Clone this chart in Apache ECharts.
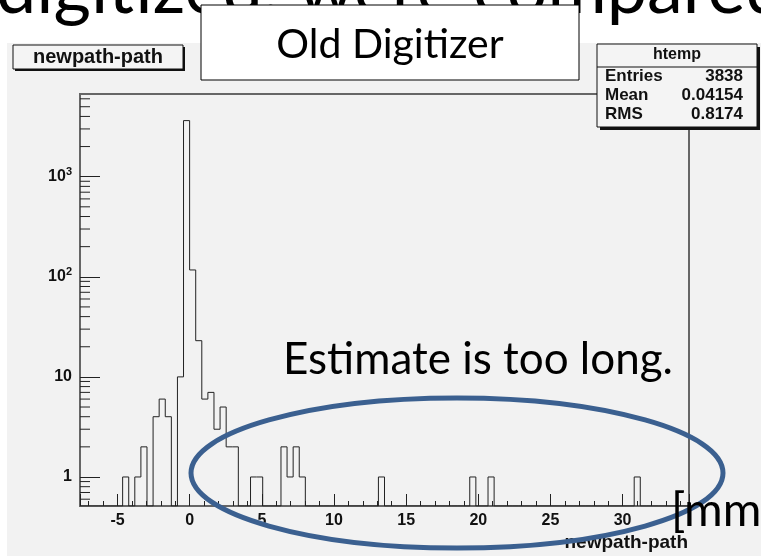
<!DOCTYPE html>
<html>
<head>
<meta charset="utf-8">
<script src="https://cdn.jsdelivr.net/npm/echarts@6/dist/echarts.min.js"></script>
<style>
  html, body { margin: 0; padding: 0; background: #fff; }
  #main { width: 761px; height: 556px; }
</style>
</head>
<body>
<div id="main"></div>
<script>
// histogram htemp: 100 bins from xMin to xMax, only filled bins listed
var xMin = -7.6, xMax = 34.6, nBins = 100;
var binIndex  = [7, 9, 10, 12, 13, 14, 16, 17,   18,  19, 20, 21, 22, 23, 24, 25, 28, 29, 33, 34, 35, 36, 49, 64, 67, 91];
var binCounts = [1, 1, 2,  4,  6,  4,  10, 3633, 117, 23, 6,  7,  3,  5,  2,  2,  1,  1,  2,  1,  2,  1,  1,  1,  1,  1];
var yMin = 0.513, yMax = 6700;
var yLabels = { 1: '1', 10: '10', 100: '10{sup|2}', 1000: '10{sup|3}' };
var statNames = ['Entries', 'Mean', 'RMS'];
var statValues = ['3838', '0.04154', '0.8174'];

var binWidth = (xMax - xMin) / nBins;
var counts = [];
for (var i = 0; i < nBins; i++) counts.push(0);
binIndex.forEach(function (b, k) { counts[b] = binCounts[k]; });

// step outline, empty bins drawn on the bottom of the frame
var outline = [];
counts.forEach(function (c, i) {
  var v = c > 0 ? c : yMin;
  outline.push([xMin + i * binWidth, v]);
  outline.push([xMin + (i + 1) * binWidth, v]);
});

// log minor ticks 2..9 per decade
var minorY = [];
[0.1, 1, 10, 100, 1000].forEach(function (d) {
  for (var m = 2; m <= 9; m++) {
    var v = m * d;
    if (v > yMin && v < yMax) minorY.push([xMin, v]);
  }
});

var myChart = echarts.init(document.getElementById('main'));
var font = 'Liberation Sans, Arial, sans-serif';
var slideFont = 'Lato, Open Sans, sans-serif';

var option = {
  animation: false,
  backgroundColor: '#fff',
  grid: {
    left: 80, right: 72, top: 94, bottom: 50,
    show: true,
    borderColor: '#666',
    borderWidth: 2,
    backgroundColor: 'transparent'
  },
  xAxis: {
    type: 'value',
    min: xMin,
    max: xMax,
    splitNumber: 8,
    axisLine: { onZero: false, lineStyle: { color: '#666', width: 2 } },
    axisTick: { inside: true, length: 12, lineStyle: { color: '#222', width: 1 } },
    minorTick: { show: true, splitNumber: 5, length: 5, lineStyle: { color: '#222', width: 1 } },
    splitLine: { show: false },
    axisLabel: {
      showMinLabel: false, showMaxLabel: false,
      margin: 7, color: '#111', fontFamily: font, fontWeight: 'bold', fontSize: 16
    }
  },
  yAxis: {
    type: 'log',
    min: yMin,
    max: yMax,
    axisLine: { onZero: false, lineStyle: { color: '#666', width: 2 } },
    axisTick: { inside: true, length: 20, lineStyle: { color: '#222', width: 1 } },
    splitLine: { show: false },
    axisLabel: {
      showMinLabel: false, showMaxLabel: false,
      margin: 8, color: '#111', fontFamily: font, fontWeight: 'bold', fontSize: 16,
      formatter: function (v) {
        var k = Math.round(v);
        return Math.abs(v - k) < 1e-6 && yLabels[k] ? yLabels[k] : '';
      },
      rich: {
        sup: { fontFamily: font, fontWeight: 'bold', fontSize: 11, color: '#111', padding: [0, 0, 9, 0] }
      }
    }
  },
  series: [
    {
      name: 'htemp',
      type: 'line',
      data: outline,
      symbol: 'none',
      clip: true,
      lineStyle: { color: '#222', width: 1 },
      z: 3
    },
    {
      name: 'minor',
      type: 'custom',
      data: minorY,
      encode: { x: 0, y: 1 },
      renderItem: function (params, api) {
        var p = api.coord([xMin, api.value(1)]);
        return {
          type: 'line',
          shape: { x1: p[0], y1: p[1], x2: p[0] + 10, y2: p[1] },
          style: { stroke: '#222', lineWidth: 1 }
        };
      },
      z: 3
    }
  ],
  graphic: [
    { type: 'rect', z: -10, shape: { x: 7, y: 43, width: 754, height: 513 }, style: { fill: '#f2f2f2' } },
    // slide title, cut at the top
    { type: 'text', z: -5, x: -4, y: -46, style: { text: 'digitized, were compared', font: '72px ' + slideFont, fill: '#000', verticalAlign: 'top' } },
    // Old Digitizer box
    { type: 'rect', z: 20, shape: { x: 201, y: 5, width: 378, height: 75 }, style: { fill: '#fff', stroke: '#000', lineWidth: 1 } },
    { type: 'text', z: 21, x: 390, y: 45, style: { text: 'Old Digitizer', font: '41px ' + slideFont, fill: '#000', align: 'center', verticalAlign: 'middle' } },
    // histogram title box
    { type: 'rect', z: 20, shape: { x: 15, y: 47, width: 170, height: 24 }, style: { fill: '#111' } },
    { type: 'rect', z: 21, shape: { x: 13, y: 45, width: 170, height: 24 }, style: { fill: '#f4f4f4', stroke: '#111', lineWidth: 1 } },
    { type: 'text', z: 22, x: 98, y: 57, style: { text: 'newpath-path', font: 'bold 20px ' + font, fill: '#111', align: 'center', verticalAlign: 'middle' } },
    // stats box
    { type: 'rect', z: 20, shape: { x: 600, y: 47, width: 160, height: 83 }, style: { fill: '#111' } },
    { type: 'rect', z: 21, shape: { x: 597, y: 44, width: 160, height: 83 }, style: { fill: '#f4f4f4', stroke: '#111', lineWidth: 1 } },
    { type: 'line', z: 22, shape: { x1: 597, y1: 67, x2: 757, y2: 67 }, style: { stroke: '#111', lineWidth: 1 } },
    { type: 'text', z: 22, x: 677, y: 55, style: { text: 'htemp', font: 'bold 16px ' + font, fill: '#111', align: 'center', verticalAlign: 'middle' } },
    { type: 'text', z: 22, x: 605, y: 67, style: { text: statNames.join('\n'), font: 'bold 17px ' + font, lineHeight: 19, fill: '#111', align: 'left', verticalAlign: 'top' } },
    { type: 'text', z: 22, x: 743, y: 67, style: { text: statValues.join('\n'), font: 'bold 17px ' + font, lineHeight: 19, fill: '#111', align: 'right', verticalAlign: 'top' } },
    // annotations
    { type: 'text', z: 22, x: 283, y: 360, style: { text: 'Estimate is too long.', font: '44px ' + slideFont, fill: '#000', align: 'left', verticalAlign: 'middle' } },
    { type: 'text', z: 22, x: 688, y: 543, style: { text: 'newpath-path', font: 'bold 19px ' + font, fill: '#111', align: 'right', verticalAlign: 'middle' } },
    { type: 'ellipse', z: 30, shape: { cx: 457, cy: 473, rx: 266, ry: 75 }, style: { fill: 'none', stroke: '#3b6090', lineWidth: 5 } },
    { type: 'text', z: 31, x: 671, y: 511, style: { text: '[mm', font: '47px ' + slideFont, fill: '#000', align: 'left', verticalAlign: 'middle' } }
  ]
};

myChart.setOption(option);
</script>
</body>
</html>
